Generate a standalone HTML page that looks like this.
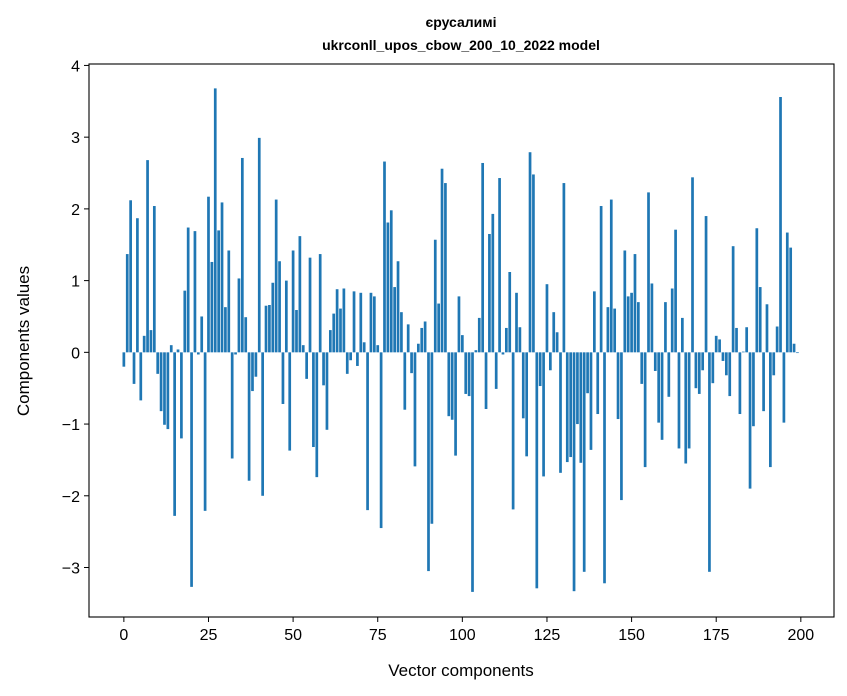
<!DOCTYPE html>
<html><head><meta charset="utf-8"><style>
html,body{margin:0;padding:0;background:#fff;}
svg{display:block;font-family:"Liberation Sans","DejaVu Sans",sans-serif;}
</style></head><body>
<svg id="chart" width="847" height="696" xmlns="http://www.w3.org/2000/svg">
<rect width="847" height="696" fill="#fff"/>
<text x="461" y="27" text-anchor="middle" font-size="14" font-weight="bold">єрусалимі</text>
<text x="461" y="50" text-anchor="middle" font-size="14" font-weight="bold">ukrconll_upos_cbow_200_10_2022 model</text>
<g id="bars"></g>
<g id="xticks"></g>
<g id="yticks"></g>
<rect x="89" y="64" width="745" height="553" fill="none" stroke="#000" stroke-width="1.1"/>
<text x="461" y="676" text-anchor="middle" font-size="17">Vector components</text>
<text transform="translate(29,341) rotate(-90)" text-anchor="middle" font-size="17">Components values</text>
</svg>
<script>
const values = [-0.20,1.37,2.12,-0.44,1.87,-0.67,0.23,2.68,0.31,2.04,-0.30,-0.82,-1.01,-1.07,0.10,-2.28,0.04,-1.20,0.86,1.74,-3.27,1.69,-0.03,0.50,-2.21,2.17,1.26,3.68,1.70,2.09,0.63,1.42,-1.48,-0.03,1.03,2.71,0.49,-1.79,-0.54,-0.34,2.99,-2.00,0.65,0.66,0.97,2.13,1.27,-0.72,1.00,-1.37,
1.42,0.59,1.62,0.10,-0.37,1.32,-1.32,-1.74,1.37,-0.46,-1.08,0.31,0.54,0.88,0.61,0.89,-0.30,-0.11,0.85,-0.19,0.83,0.14,-2.20,0.83,0.78,0.10,-2.45,2.66,1.81,1.98,0.91,1.27,0.56,-0.80,0.39,-0.29,-1.59,0.12,0.34,0.43,-3.05,-2.39,1.57,0.68,2.56,2.36,-0.89,-0.94,-1.44,0.78,
0.24,-0.58,-0.61,-3.34,0.03,0.48,2.64,-0.79,1.65,1.93,-0.51,2.43,-0.03,0.34,1.12,-2.19,0.83,0.35,-0.92,-1.45,2.79,2.48,-3.29,-0.47,-1.73,0.95,-0.25,0.56,0.28,-1.68,2.36,-1.53,-1.46,-3.33,-1.00,-1.54,-3.06,-0.57,-1.36,0.85,-0.86,2.04,-3.22,0.63,2.13,0.61,-0.93,-2.06,1.42,0.78,
0.83,1.37,0.70,-0.44,-1.60,2.23,0.96,-0.26,-0.98,-1.22,0.70,-0.62,0.89,1.71,-1.34,0.48,-1.55,-1.34,2.44,-0.50,-0.58,-0.25,1.90,-3.06,-0.43,0.23,0.18,-0.12,-0.32,-0.61,1.48,0.34,-0.86,0.01,0.35,-1.90,-1.03,1.73,0.91,-0.82,0.67,-1.60,-0.32,0.36,3.56,-0.98,1.67,1.46,0.12,-0.01];
const xTicks = [0,25,50,75,100,125,150,175,200];
const yTicks = [-3,-2,-1,0,1,2,3,4];

const NS = "http://www.w3.org/2000/svg";
const L=89,R=834,T=64,B=617;
const xmin=-10.3,xmax=209.8,ymin=-3.69,ymax=4.02;
function xs(v){return L+(v-xmin)/(xmax-xmin)*(R-L);}
function ys(v){return T+(ymax-v)/(ymax-ymin)*(B-T);}
const bars=document.getElementById('bars');
values.forEach((v,i)=>{
  const r=document.createElementNS(NS,'rect');
  const x0=xs(i-0.4),x1=xs(i+0.4);
  const y0=ys(Math.max(v,0)),y1=ys(Math.min(v,0));
  r.setAttribute('x',x0);r.setAttribute('width',x1-x0);
  r.setAttribute('y',y0);r.setAttribute('height',Math.max(y1-y0,0.3));
  r.setAttribute('fill','#1f77b4');
  
  
  bars.appendChild(r);
});
const xg=document.getElementById('xticks');
xTicks.forEach(t=>{
  const x=xs(t);
  const l=document.createElementNS(NS,'line');
  l.setAttribute('x1',x);l.setAttribute('x2',x);l.setAttribute('y1',B);l.setAttribute('y2',B+5);
  l.setAttribute('stroke','#000');
  
  
  xg.appendChild(l);
  const tx=document.createElementNS(NS,'text');
  tx.setAttribute('x',x);tx.setAttribute('y',B+23);tx.setAttribute('text-anchor','middle');tx.setAttribute('font-size','16');
  tx.textContent=t;
  
  
  xg.appendChild(tx);
});
const yg=document.getElementById('yticks');
yTicks.forEach(t=>{
  const y=ys(t);
  const l=document.createElementNS(NS,'line');
  l.setAttribute('x1',L-5);l.setAttribute('x2',L);l.setAttribute('y1',y);l.setAttribute('y2',y);
  l.setAttribute('stroke','#000');
  
  
  yg.appendChild(l);
  const tx=document.createElementNS(NS,'text');
  tx.setAttribute('x',L-9);tx.setAttribute('y',y+6);tx.setAttribute('text-anchor','end');tx.setAttribute('font-size','16');
  tx.textContent=t<0?'\u2212'+(-t):String(t);
  
  
  yg.appendChild(tx);
});
</script>
</body></html>
